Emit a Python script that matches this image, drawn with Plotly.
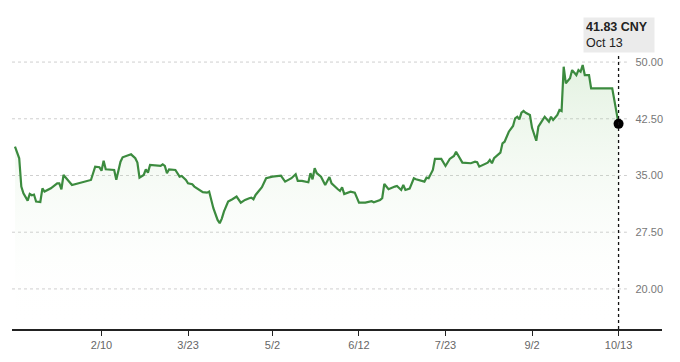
import plotly.graph_objects as go

# ---- data ----
dates = [
    "2024-12-31", "2025-01-02", "2025-01-03", "2025-01-04", "2025-01-06", "2025-01-07",
    "2025-01-08", "2025-01-09", "2025-01-10", "2025-01-12", "2025-01-13", "2025-01-14",
    "2025-01-17", "2025-01-20", "2025-01-21", "2025-01-22", "2025-01-23", "2025-01-27",
    "2025-02-05", "2025-02-07", "2025-02-09", "2025-02-10", "2025-02-11", "2025-02-12",
    "2025-02-16", "2025-02-17", "2025-02-19", "2025-02-20", "2025-02-23", "2025-02-24",
    "2025-02-26", "2025-02-27", "2025-02-28", "2025-03-02", "2025-03-03", "2025-03-04",
    "2025-03-05", "2025-03-08", "2025-03-10", "2025-03-11", "2025-03-12", "2025-03-13",
    "2025-03-14", "2025-03-17", "2025-03-18", "2025-03-19", "2025-03-20", "2025-03-22",
    "2025-03-23", "2025-03-25", "2025-03-26", "2025-03-28", "2025-03-30", "2025-04-01",
    "2025-04-02", "2025-04-04", "2025-04-06", "2025-04-07", "2025-04-08", "2025-04-09",
    "2025-04-11", "2025-04-13", "2025-04-15", "2025-04-17", "2025-04-19", "2025-04-21",
    "2025-04-22", "2025-04-23", "2025-04-24", "2025-04-27", "2025-04-29", "2025-05-02",
    "2025-05-06", "2025-05-08", "2025-05-11", "2025-05-13", "2025-05-14", "2025-05-16",
    "2025-05-19", "2025-05-20", "2025-05-21", "2025-05-22", "2025-05-23", "2025-05-25",
    "2025-05-26", "2025-05-27", "2025-05-29", "2025-05-30", "2025-06-02", "2025-06-03",
    "2025-06-04", "2025-06-05", "2025-06-08", "2025-06-10", "2025-06-12", "2025-06-15",
    "2025-06-18", "2025-06-19", "2025-06-22", "2025-06-23", "2025-06-24", "2025-06-26",
    "2025-06-29", "2025-06-30", "2025-07-02", "2025-07-03", "2025-07-04", "2025-07-06",
    "2025-07-08", "2025-07-09", "2025-07-13", "2025-07-14", "2025-07-15", "2025-07-16",
    "2025-07-17", "2025-07-18", "2025-07-21", "2025-07-23", "2025-07-25", "2025-07-27",
    "2025-07-28", "2025-07-31", "2025-08-03", "2025-08-04", "2025-08-06", "2025-08-07",
    "2025-08-08", "2025-08-10", "2025-08-12", "2025-08-13", "2025-08-14", "2025-08-15",
    "2025-08-17", "2025-08-18", "2025-08-19", "2025-08-20", "2025-08-22", "2025-08-24",
    "2025-08-25", "2025-08-26", "2025-08-27", "2025-08-28", "2025-08-29", "2025-08-30",
    "2025-09-01", "2025-09-02", "2025-09-04", "2025-09-05", "2025-09-06", "2025-09-07",
    "2025-09-08", "2025-09-10", "2025-09-11", "2025-09-12", "2025-09-14", "2025-09-15",
    "2025-09-16", "2025-09-17", "2025-09-18", "2025-09-20", "2025-09-21", "2025-09-23",
    "2025-09-24", "2025-09-25", "2025-09-26", "2025-09-27", "2025-09-29", "2025-09-30",
    "2025-10-10", "2025-10-13",
]

prices = [
    38.81, 37.28, 33.53, 32.65, 31.68, 32.56,
    32.39, 32.48, 31.55, 31.50, 33.30, 32.87,
    33.30, 33.97, 33.97, 33.18, 35.07, 33.75,
    34.41, 36.17, 36.10, 35.64, 36.96, 35.82,
    35.73, 34.45, 36.83, 37.41, 37.71, 37.80,
    37.28, 36.70, 34.72, 35.07, 35.82, 35.38,
    36.39, 36.26, 36.26, 36.48, 36.26, 35.30,
    35.82, 35.73, 35.30, 34.85, 34.94, 34.41,
    33.97, 33.84, 33.53, 33.18, 32.79, 32.73,
    32.87, 30.67, 29.13, 28.69, 29.30, 30.23,
    31.55, 31.86, 32.21, 31.41, 31.77, 31.99,
    32.07, 31.86, 32.43, 33.45, 34.64, 34.85,
    34.98, 34.19, 34.64, 35.17, 34.28, 34.28,
    34.10, 35.30, 34.50, 35.96, 35.30, 34.85,
    34.30, 33.75, 34.80, 33.97, 33.18, 32.96,
    33.45, 32.56, 32.87, 32.73, 31.41, 31.41,
    31.60, 31.47, 31.77, 31.99, 33.88, 33.18,
    33.53, 33.62, 33.09, 33.75, 33.09, 33.27,
    34.64, 34.50, 34.19, 34.72, 34.64, 35.30,
    35.73, 37.20, 37.19, 36.26, 37.19, 37.58,
    38.15, 36.70, 36.62, 36.62, 36.83, 36.75,
    36.17, 36.39, 36.70, 37.05, 36.62, 37.28,
    37.80, 38.02, 39.26, 39.47, 40.79, 41.55,
    42.56, 42.77, 42.43, 43.30, 43.53, 43.30,
    43.00, 41.30, 39.60, 41.45, 41.90, 42.34,
    42.77, 42.11, 42.77, 42.34, 43.00, 43.66,
    43.53, 49.38, 47.19, 47.85, 48.94, 48.28,
    48.94, 48.72, 49.60, 48.28, 48.28, 46.52,
    46.52, 41.83,
]

x_tick_vals = ["2025-02-10", "2025-03-23", "2025-05-02", "2025-06-12",
               "2025-07-23", "2025-09-02", "2025-10-13"]
x_tick_text = ["2/10", "3/23", "5/2", "6/12", "7/23", "9/2", "10/13"]

y_tick_vals = [20, 27.5, 35, 42.5, 50]
y_tick_text = ["20.00", "27.50", "35.00", "42.50", "50.00"]

currency = "CNY"
last_label = "Oct 13"

LINE = "#3c8b3f"
FONT = "Liberation Sans, Arial, Helvetica, sans-serif"
Y_MIN, Y_MAX = 14.7, 51.2

fig = go.Figure()

fig.add_trace(go.Scatter(
    x=dates, y=prices, mode="lines",
    line=dict(color=LINE, width=2.2),
    fill="tozeroy",
    fillgradient=dict(
        type="vertical",
        start=Y_MIN, stop=max(prices),
        colorscale=[[0, "rgba(255,255,255,0)"], [1, "rgba(130,195,120,0.22)"]],
    ),
    hoverinfo="skip", showlegend=False,
))

fig.add_trace(go.Scatter(
    x=[dates[-1]], y=[prices[-1]], mode="markers",
    marker=dict(color="black", size=10),
    hoverinfo="skip", showlegend=False,
))

# dashed horizontal gridlines (stop short of the right-side labels)
for v in y_tick_vals:
    fig.add_shape(type="line", xref="paper", yref="y",
                  x0=0, x1=0.946, y0=v, y1=v,
                  line=dict(color="#cfcfcf", width=1, dash="3px,3px"), layer="below")

# dotted vertical line at the last point
fig.add_shape(type="line", xref="x", yref="paper",
              x0=dates[-1], x1=dates[-1], y0=0, y1=1,
              line=dict(color="#111", width=1.3, dash="dot"))

fig.add_annotation(
    x=dates[-1], xref="x", y=1, yref="paper",
    xanchor="center", yanchor="bottom", showarrow=False,
    text=f"<b>{prices[-1]:.2f} {currency}</b><br>{last_label}",
    align="left", bgcolor="#ebebeb", borderpad=2, width=66, height=30,
    font=dict(family=FONT, size=12.5, color="#222"),
)

fig.update_layout(
    width=680, height=362,
    margin=dict(l=12, r=18, t=53, b=33),
    paper_bgcolor="white", plot_bgcolor="white",
    font=dict(family=FONT),
    hovermode=False,
    xaxis=dict(
        range=["2024-12-29 14:00", "2025-11-02 14:00"],
        tickvals=x_tick_vals, ticktext=x_tick_text,
        showgrid=False, zeroline=False,
        showline=True, linecolor="#222", linewidth=1.5,
        ticks="outside", ticklen=5, tickcolor="#222", tickwidth=1,
        tickfont=dict(size=11, color="#666"),
    ),
    yaxis=dict(
        range=[Y_MIN, Y_MAX], side="right",
        tickvals=y_tick_vals, ticktext=y_tick_text,
        ticklabelposition="inside", ticklabelstandoff=-4,
        showgrid=False, zeroline=False, showline=False, ticks="",
        tickfont=dict(size=11, color="#777"),
    ),
)

fig.write_html("out.html", config={"displayModeBar": False})

# remove the browser's default page margin so the chart sits at the window origin
with open("out.html", "r", encoding="utf-8") as f:
    html = f.read()
html = html.replace("<body>", '<body style="margin:0;padding:0;">', 1)
with open("out.html", "w", encoding="utf-8") as f:
    f.write(html)
